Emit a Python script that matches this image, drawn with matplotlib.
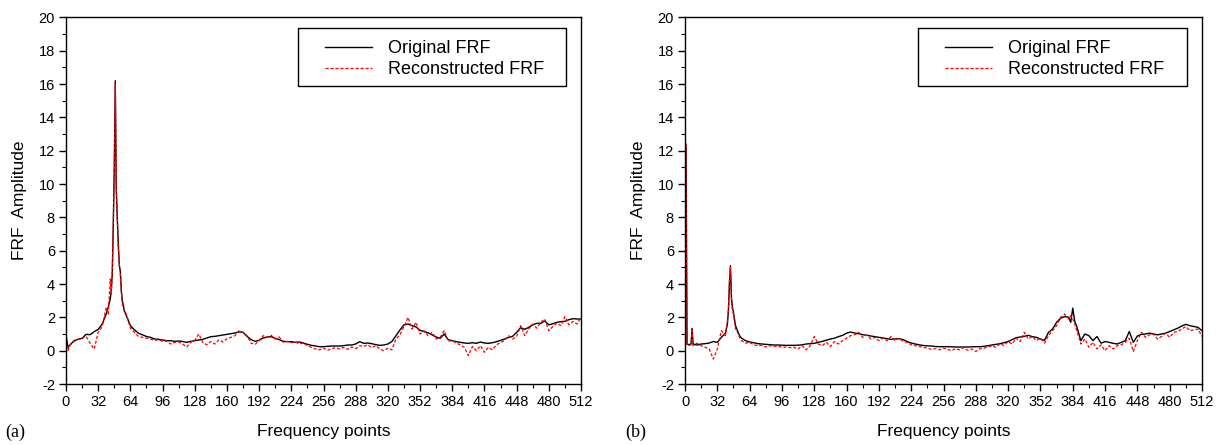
import matplotlib
matplotlib.use("Agg")
import matplotlib.pyplot as plt
from matplotlib.patches import Rectangle
from matplotlib.ticker import MultipleLocator

# ---- data ----
FREQ_A = [0, 2, 4, 8, 12, 16, 20, 24, 28, 32, 36, 40, 42, 44, 45, 46, 47, 48, 49, 50,
          51, 52, 53, 54, 55, 56, 58, 60,
          64, 68, 72, 76, 80, 84, 88, 92, 96, 100, 104, 108, 112, 116, 120, 124, 128,
          132, 136, 140, 144, 148, 152, 156, 160, 164, 168, 172, 176, 180, 184, 188,
          192, 196, 200, 204, 208, 212, 216, 220, 224, 228, 232, 236, 240, 244, 248,
          252, 256, 260, 264, 268, 272, 276, 280, 284, 288, 292, 296, 300, 304, 308,
          312, 316, 320, 324, 328, 332, 336, 340, 344, 348, 352, 356, 360, 364, 368,
          372, 376, 380, 384, 388, 392, 396, 400, 404, 408, 412, 416, 420, 424, 428,
          432, 436, 440, 444, 448, 452, 456, 460, 464, 468, 472, 476, 480, 484, 488,
          492, 496, 500, 504, 508, 512]

ORIG_A = [0.94, 0.2, 0.34, 0.6, 0.68, 0.74, 0.98, 0.96, 1.14, 1.28, 1.6, 2.2, 2.6, 3.1,
          3.6, 4.6, 7.5, 11.0, 16.2, 9.6, 8.0, 6.4, 5.1, 4.8, 3.6, 3.0, 2.4, 2.1,
          1.5, 1.25, 1.05, 0.95, 0.85, 0.8, 0.7, 0.68, 0.64, 0.6,
          0.6, 0.56, 0.58, 0.55, 0.5, 0.56, 0.6, 0.64, 0.68, 0.76,
          0.84, 0.86, 0.9, 0.94, 0.98, 1.02, 1.06, 1.12, 1.1, 0.86,
          0.66, 0.56, 0.62, 0.76, 0.82, 0.84, 0.74, 0.66, 0.56, 0.54,
          0.54, 0.5, 0.52, 0.46, 0.38, 0.32, 0.28, 0.24, 0.24, 0.26,
          0.28, 0.28, 0.28, 0.3, 0.34, 0.34, 0.4, 0.54, 0.44, 0.46,
          0.42, 0.36, 0.32, 0.34, 0.4, 0.55, 0.9, 1.24, 1.55, 1.6,
          1.5, 1.42, 1.22, 1.14, 1.08, 0.95, 0.82, 0.74, 1.0, 0.66,
          0.6, 0.54, 0.5, 0.46, 0.44, 0.48, 0.44, 0.52, 0.46, 0.44,
          0.48, 0.54, 0.62, 0.7, 0.8, 0.86, 1.1, 1.38, 1.28, 1.4,
          1.55, 1.64, 1.64, 1.78, 1.55, 1.62, 1.7, 1.74, 1.76, 1.86,
          1.92, 1.9, 1.9]

RECON_A = [0.9, 0.0, 0.35, 0.55, 0.7, 0.75, 0.85, 0.45, 0.1, 1.1, 1.45, 2.6, 2.2, 4.3,
           3.4, 4.8, 7.8, 10.8, 16.0, 9.8, 7.8, 6.2, 5.2, 4.6, 3.5, 2.8, 2.3, 2.2,
           1.35, 1.1, 0.85, 0.8, 0.75, 0.7, 0.62, 0.66, 0.56, 0.58,
           0.4, 0.5, 0.52, 0.4, 0.22, 0.5, 0.62, 1.0, 0.5, 0.35,
           0.55, 0.4, 0.65, 0.52, 0.72, 0.8, 0.9, 1.2, 1.1, 0.9,
           0.45, 0.38, 0.6, 0.9, 0.8, 0.92, 0.7, 0.82, 0.5, 0.56,
           0.48, 0.52, 0.4, 0.46, 0.3, 0.2, 0.1, 0.05, 0.15, 0.02,
           0.12, 0.18, 0.1, 0.2, 0.08, 0.22, 0.12, 0.3, 0.25, 0.35,
           0.18, 0.3, 0.1, 0.0, 0.15, 0.05, 0.7, 0.95, 1.45, 2.0,
           1.3, 1.7, 1.0, 1.2, 0.9, 1.1, 0.7, 0.8, 1.2, 0.55,
           0.62, 0.45, 0.35, 0.2, -0.3, 0.25, 0.0, 0.3, -0.1, 0.2,
           0.05, 0.35, 0.5, 0.6, 0.9, 0.7, 0.85, 1.5, 0.9, 1.3,
           1.6, 1.35, 1.7, 1.9, 1.2, 1.45, 1.65, 1.5, 2.05, 1.55,
           1.75, 1.6, 2.0]

FREQ_B = [0, 1, 2, 4, 6, 7, 8, 12, 16, 20, 24, 28, 32, 36, 40, 42, 43, 44, 45, 46,
          47, 48, 50, 52, 54, 56, 60,
          64, 68, 72, 76, 80, 84, 88, 92, 96, 100, 104, 108, 112, 116, 120, 124, 128,
          132, 136, 140, 144, 148, 152, 156, 160, 164, 168, 172, 176, 180, 184, 188,
          192, 196, 200, 204, 208, 212, 216, 220, 224, 228, 232, 236, 240, 244, 248,
          252, 256, 260, 264, 268, 272, 276, 280, 284, 288, 292, 296, 300, 304, 308,
          312, 316, 320, 324, 328, 332, 336, 340, 344, 348, 352, 356, 360, 364, 368,
          372, 376, 380, 382, 384, 386, 388, 392, 396, 400, 404, 408, 412, 416, 420,
          424, 428, 432, 436, 440, 444, 448, 452, 456, 460, 464, 468, 472, 476, 480,
          484, 488, 492, 496, 500, 504, 508, 512]

ORIG_B = [12.5, 12.3, 0.4, 0.36, 0.4, 1.34, 0.4, 0.34, 0.4, 0.42, 0.46, 0.55, 0.5, 0.8,
          1.04, 1.6, 2.4, 4.0, 5.1, 3.2, 2.6, 2.3, 1.5, 1.2, 0.9, 0.75, 0.6,
          0.52, 0.48, 0.42, 0.4, 0.38, 0.36, 0.34, 0.34, 0.33, 0.32,
          0.32, 0.32, 0.33, 0.35, 0.4, 0.42, 0.44, 0.5, 0.56, 0.63,
          0.7, 0.75, 0.84, 0.92, 1.05, 1.12, 1.06, 1.02, 0.96, 0.92,
          0.88, 0.84, 0.8, 0.76, 0.72, 0.68, 0.7, 0.72, 0.66, 0.55,
          0.46, 0.4, 0.35, 0.31, 0.29, 0.28, 0.25, 0.24, 0.24, 0.24,
          0.23, 0.22, 0.22, 0.22, 0.22, 0.23, 0.24, 0.24, 0.26, 0.3,
          0.34, 0.38, 0.42, 0.48, 0.55, 0.66, 0.78, 0.82, 0.86, 0.92,
          0.84, 0.8, 0.7, 0.62, 1.1, 1.3, 1.7, 1.95, 2.05, 2.0,
          1.7, 2.55, 1.75,
          1.45, 0.6, 1.0, 0.9, 0.6, 0.85, 0.45, 0.55, 0.5, 0.44,
          0.4, 0.5, 0.6, 1.15, 0.5, 0.88, 0.98, 1.0, 1.05, 1.0,
          0.95, 1.0, 1.05, 1.15, 1.25, 1.35, 1.48, 1.58, 1.5, 1.45,
          1.4, 1.2]

RECON_B = [12.5, 12.4, 0.3, 0.32, 0.35, 1.2, 0.3, 0.45, 0.3, 0.2, 0.1, -0.5, 0.1, 1.2,
           0.9, 1.8, 2.5, 4.2, 5.0, 3.0, 2.4, 2.2, 1.3, 1.1, 0.8, 0.6, 0.45,
           0.5, 0.35, 0.3, 0.32, 0.22, 0.3, 0.25, 0.28, 0.2, 0.22,
           0.18, 0.2, 0.1, 0.3, 0.05, 0.3, 0.85, 0.4, 0.3, 0.5,
           0.25, 0.55, 0.4, 0.6, 0.75, 0.9, 0.95, 1.1, 0.8, 0.95,
           0.7, 0.8, 0.6, 0.75, 0.6, 0.85, 0.6, 0.75, 0.55, 0.5,
           0.35, 0.3, 0.25, 0.2, 0.15, 0.08, 0.12, 0.05, 0.15, 0.08,
           0.0, 0.12, 0.05, 0.18, 0.02, 0.1, -0.05, 0.12, 0.15, 0.22,
           0.3, 0.2, 0.42, 0.3, 0.55, 0.4, 0.75, 0.55, 1.1, 0.7,
           0.85, 0.6, 0.75, 0.45, 0.9, 1.2, 1.5, 2.0, 2.2, 1.9,
           2.1, 1.9, 1.6,
           1.2, 0.4, 0.7, 0.2, 0.5, 0.1, 0.35, 0.0, 0.3, 0.1,
           0.3, 0.35, 0.5, 0.75, -0.05, 0.6, 1.1, 0.8, 0.95, 1.0,
           0.7, 0.85, 1.05, 0.8, 1.1, 1.15, 1.3, 1.45, 1.2, 1.25,
           1.3, 0.85]

XTICKS = [0, 32, 64, 96, 128, 160, 192, 224, 256, 288, 320, 352, 384, 416, 448, 480, 512]
YTICKS = [-2, 0, 2, 4, 6, 8, 10, 12, 14, 16, 18, 20]

plt.rcParams['font.family'] = ['Liberation Sans', 'DejaVu Sans']
plt.rcParams['axes.unicode_minus'] = False

fig = plt.figure(figsize=(12.24, 4.45), dpi=100)
ax1 = fig.add_axes([66 / 1224, 1 - 384 / 445, 515 / 1224, 366.6 / 445])
ax2 = fig.add_axes([685 / 1224, 1 - 384 / 445, 517 / 1224, 366.6 / 445])


def draw_panel(ax, freq, orig, recon):
    ax.plot(freq, orig, color='black', lw=1.0, label='Original FRF')
    ax.plot(freq, recon, color='red', lw=0.9, linestyle=(0, (2.5, 1.5)),
            label='Reconstructed FRF')
    ax.set_xlim(0, 512)
    ax.set_ylim(-2, 20)
    ax.set_xticks(XTICKS)
    ax.set_yticks(YTICKS)
    ax.xaxis.set_minor_locator(MultipleLocator(16))
    ax.yaxis.set_minor_locator(MultipleLocator(1))
    ax.tick_params(which='major', direction='out', length=5, width=1.0,
                   labelsize=10.5, pad=3, top=False, right=False)
    ax.tick_params(which='minor', direction='out', length=3, width=0.8,
                   top=False, right=False)
    for sp in ax.spines.values():
        sp.set_linewidth(1.0)
    ax.set_xlabel('Frequency points', fontsize=12.5, labelpad=11)
    ax.set_ylabel('FRF  Amplitude', fontsize=12.5, labelpad=8)

    # legend box drawn as a plain rectangle, entries without frame
    ax.add_patch(Rectangle((0.45, 0.813), 0.521, 0.158, transform=ax.transAxes,
                           fill=False, edgecolor='black', lw=1.0, zorder=5))
    ax.legend(loc='upper left', bbox_to_anchor=(0.486, 0.962), frameon=False,
              fontsize=13, borderpad=0, handlelength=2.6, handletextpad=0.85,
              labelspacing=0.2)


draw_panel(ax1, FREQ_A, ORIG_A, RECON_A)
draw_panel(ax2, FREQ_B, ORIG_B, RECON_B)

fig.text(5 / 1224, 1 - 432 / 445, '(a)', family='Liberation Serif', fontsize=13,
         va='center', ha='left')
fig.text(625 / 1224, 1 - 432 / 445, '(b)', family='Liberation Serif', fontsize=13,
         va='center', ha='left')

fig.savefig('out.png', dpi=100)
